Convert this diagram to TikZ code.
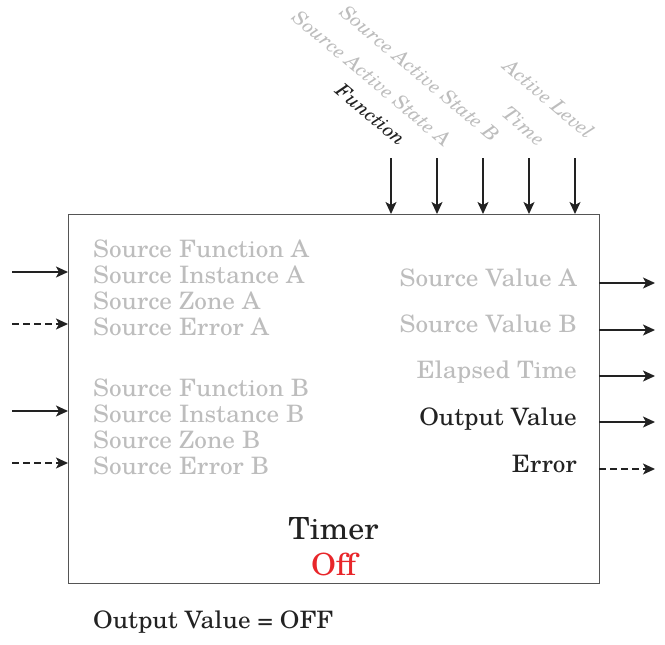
\documentclass[tikz,border=0pt]{standalone}
\usepackage{fontspec}
\setmainfont[FakeStretch=1.05]{TeX Gyre Schola}
\usetikzlibrary{arrows.meta}
\definecolor{txtgray}{HTML}{BDBDBD}
\definecolor{txtblack}{HTML}{222222}
\definecolor{boxgray}{HTML}{555555}
\definecolor{offred}{HTML}{E8262A}
\tikzset{
  lbl/.style={inner sep=0pt, font=\fontsize{24}{28}\selectfont},
  dim/.style={lbl, text=txtgray},
  act/.style={lbl, text=txtblack},
  big/.style={inner sep=0pt, anchor=base, font=\fontsize{30.5}{34}\selectfont},
  toplbl/.style={inner sep=0pt, font=\fontsize{19.5}{22}\selectfont\itshape, rotate=-40, anchor=base east},
  sig/.style={line width=1.4pt, draw=txtblack, -{Stealth[length=12pt,width=11pt,inset=3pt]}},
  dsig/.style={sig, dash pattern=on 7pt off 4pt},
}
\begin{document}
\begin{tikzpicture}[x=1pt,y=-1pt]
\useasboundingbox (0,0) rectangle (665,645);
\node[draw=boxgray, line width=1.1pt, minimum width=531pt, minimum height=369pt, inner sep=0pt, anchor=north west] (box) at (68,214) {};
% left labels
\node[dim, anchor=base west] (sfa) at (93,257) {Source Function A};
\node[dim, anchor=base west] (sia) at (93,283) {Source Instance A};
\node[dim, anchor=base west] (sza) at (93,309) {Source Zone A};
\node[dim, anchor=base west] (sea) at (93,335) {Source Error A};
\node[dim, anchor=base west] (sfb) at (93,396) {Source Function B};
\node[dim, anchor=base west] (sib) at (93,422) {Source Instance B};
\node[dim, anchor=base west] (szb) at (93,448) {Source Zone B};
\node[dim, anchor=base west] (seb) at (93,474) {Source Error B};
% right labels
\node[dim, anchor=base east] (sva) at (577,286) {Source Value A};
\node[dim, anchor=base east] (svb) at (577,332) {Source Value B};
\node[dim, anchor=base east] (et) at (577,378) {Elapsed Time};
\node[act, anchor=base east] (ov) at (577,425) {Output Value};
\node[act, anchor=base east] (er) at (577,472) {Error};
% centre
\node[big, text=txtblack] (timer) at (333.5,539) {Timer};
\node[big, text=offred] (off) at (333.5,575) {Off};
\node[act, anchor=base west] (eq) at (93,628) {Output Value = OFF};
% left inputs
\coordinate (l1) at (12,272); \coordinate (l1e) at (68,272);
\coordinate (l2) at (12,324); \coordinate (l2e) at (68,324);
\coordinate (l3) at (12,411); \coordinate (l3e) at (68,411);
\coordinate (l4) at (12,463); \coordinate (l4e) at (68,463);
\draw[sig] (l1) -- (l1e);
\draw[dsig] (l2) -- (l2e);
\draw[sig] (l3) -- (l3e);
\draw[dsig] (l4) -- (l4e);
% right outputs
\foreach \y/\n in {283/r1,330/r2,376/r3,422/r4,469/r5}{
  \coordinate (\n s) at (599,\y); \coordinate (\n e) at (655,\y);
}
\draw[sig] (r1s) -- (r1e);
\draw[sig] (r2s) -- (r2e);
\draw[sig] (r3s) -- (r3e);
\draw[sig] (r4s) -- (r4e);
\draw[dsig] (r5s) -- (r5e);
% top inputs
\foreach \x/\n in {391/t1,437/t2,483/t3,529/t4,575/t5}{
  \coordinate (\n s) at (\x,158); \coordinate (\n e) at (\x,214);
}
\draw[sig] (t1s) -- (t1e);
\draw[sig] (t2s) -- (t2e);
\draw[sig] (t3s) -- (t3e);
\draw[sig] (t4s) -- (t4e);
\draw[sig] (t5s) -- (t5e);
\node[toplbl, text=txtblack] (fn) at (399,147) {Function};
\node[toplbl, text=txtgray] (saa) at (444,148) {Source Active State A};
\node[toplbl, text=txtgray] (sab) at (492,143) {Source Active State B};
\node[toplbl, text=txtgray] (tm) at (538,147) {Time};
\node[toplbl, text=txtgray] (al) at (587,140) {Active Level};
\end{tikzpicture}
\end{document}
